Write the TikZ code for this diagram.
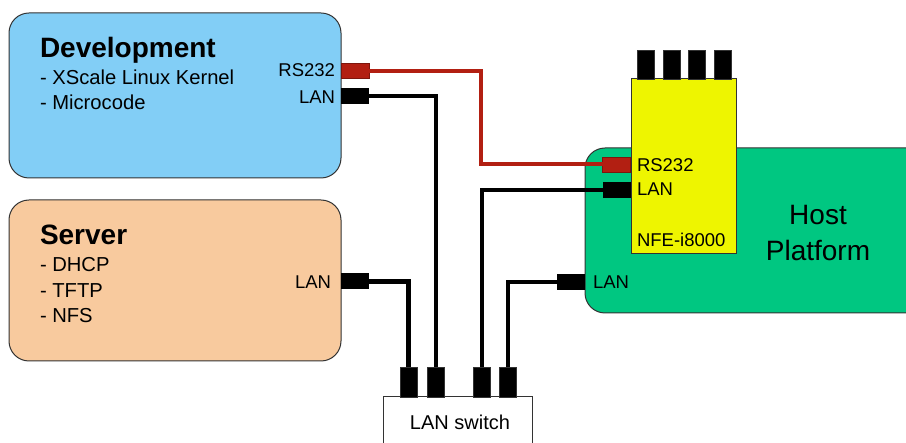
\documentclass[tikz,border=0pt]{standalone}
\usepackage{fontspec}
\setmainfont{Liberation Sans}
\definecolor{devblue}{HTML}{82CEF6}
\definecolor{srvorange}{HTML}{F8CA9E}
\definecolor{hostgreen}{HTML}{00C781}
\definecolor{nfeyellow}{HTML}{EEF500}
\definecolor{serialred}{HTML}{B21F12}
\definecolor{edgegray}{HTML}{333333}
\tikzset{
  every node/.style={inner sep=0pt, outer sep=0pt},
  panel/.style={draw=edgegray, line width=1pt, rounded corners=20pt, anchor=north west},
  plainbox/.style={draw=edgegray, line width=1pt, anchor=north west},
  title/.style={font=\bfseries\fontsize{28}{33}\selectfont, anchor=base west},
  item/.style={font=\fontsize{20.2}{24}\selectfont, anchor=base west},
  portlabel/.style={font=\fontsize{18.5}{22}\selectfont},
  lanplug/.style={fill=black, minimum width=28pt, minimum height=16pt},
  rsplug/.style={fill=serialred, draw=serialred!70!black, line width=0.5pt, minimum width=28pt, minimum height=15pt},
  pin/.style={fill=black, draw=edgegray, line width=0.4pt, minimum width=17pt, minimum height=29pt, anchor=south},
  lanwire/.style={draw=black, line width=4.5pt, line join=miter},
  rswire/.style={draw=serialred, line width=4pt, line join=miter}
}
\begin{document}
\begin{tikzpicture}[x=1pt, y=-1pt]
\clip (0,0) rectangle (906,443);
\fill[white] (0,0) rectangle (906,443);

% panels
\node[panel, fill=devblue, minimum width=332pt, minimum height=165pt] (dev) at (9,13) {};
\node[panel, fill=srvorange, minimum width=332pt, minimum height=161pt] (srv) at (9,200) {};
\node[panel, fill=hostgreen, minimum width=345pt, minimum height=165pt] (host) at (585,148) {};
\node[plainbox, fill=nfeyellow, minimum width=105pt, minimum height=175pt] (nfe) at (631,79) {};
\node[plainbox, fill=white, minimum width=149pt, minimum height=70pt] (sw) at (383,397) {};

% texts
\node[title] (devtitle) at (40,58) {Development};
\node[item] (devi1) at (40,85) {- XScale Linux Kernel};
\node[item] (devi2) at (40,110) {- Microcode};
\node[title] (srvtitle) at (40,245) {Server};
\node[item] (srvi1) at (40,272) {- DHCP};
\node[item] (srvi2) at (40,298) {- TFTP};
\node[item] (srvi3) at (40,323) {- NFS};
\node[font=\fontsize{28}{36}\selectfont, align=center] (hosttxt) at (818,233) {Host\\Platform};
\node[portlabel, anchor=base west] (nfetxt) at (637,247) {NFE-i8000};
\node[font=\fontsize{20}{24}\selectfont] (swtxt) at (460,422) {LAN switch};

% port labels
\node[portlabel, anchor=east] (devrstxt) at (335,70) {RS232};
\node[portlabel, anchor=east] (devlantxt) at (335,97) {LAN};
\node[portlabel, anchor=east] (srvlantxt) at (331,282) {LAN};
\node[portlabel, anchor=west] (nferstxt) at (637,165) {RS232};
\node[portlabel, anchor=west] (nfelantxt) at (637,189) {LAN};
\node[portlabel, anchor=west] (hostlantxt) at (593,282) {LAN};

% plugs
\node[rsplug] (devrs) at (355,71) {};
\node[lanplug] (devlan) at (355,96) {};
\node[lanplug] (srvlan) at (354.5,281.5) {};
\node[rsplug] (nfers) at (616.5,164.5) {};
\node[lanplug] (nfelan) at (616.5,190) {};
\node[lanplug] (hostlan) at (570.5,282) {};

% switch pins
\node[pin, minimum height=30pt] (sw1) at (408.5,397) {};
\node[pin, minimum height=30pt] (sw2) at (436,397) {};
\node[pin, minimum height=30pt] (sw3) at (482,397) {};
\node[pin, minimum height=30pt] (sw4) at (508,397) {};

% nfe pins
\node[pin] (np1) at (645.5,79) {};
\node[pin] (np2) at (671.5,79) {};
\node[pin] (np3) at (696.5,79) {};
\node[pin] (np4) at (722.5,79) {};

% wires
\coordinate (redturn) at (481,110);
\draw[rswire] (devrs.east) -| (redturn) |- (nfers.west);
\draw[lanwire] (devlan.east) -| (sw2.north);
\draw[lanwire] (srvlan.east) -| (sw1.north);
\draw[lanwire] (nfelan.west) -| (sw3.north);
\draw[lanwire] (hostlan.west) -| (sw4.north);
\end{tikzpicture}
\end{document}
